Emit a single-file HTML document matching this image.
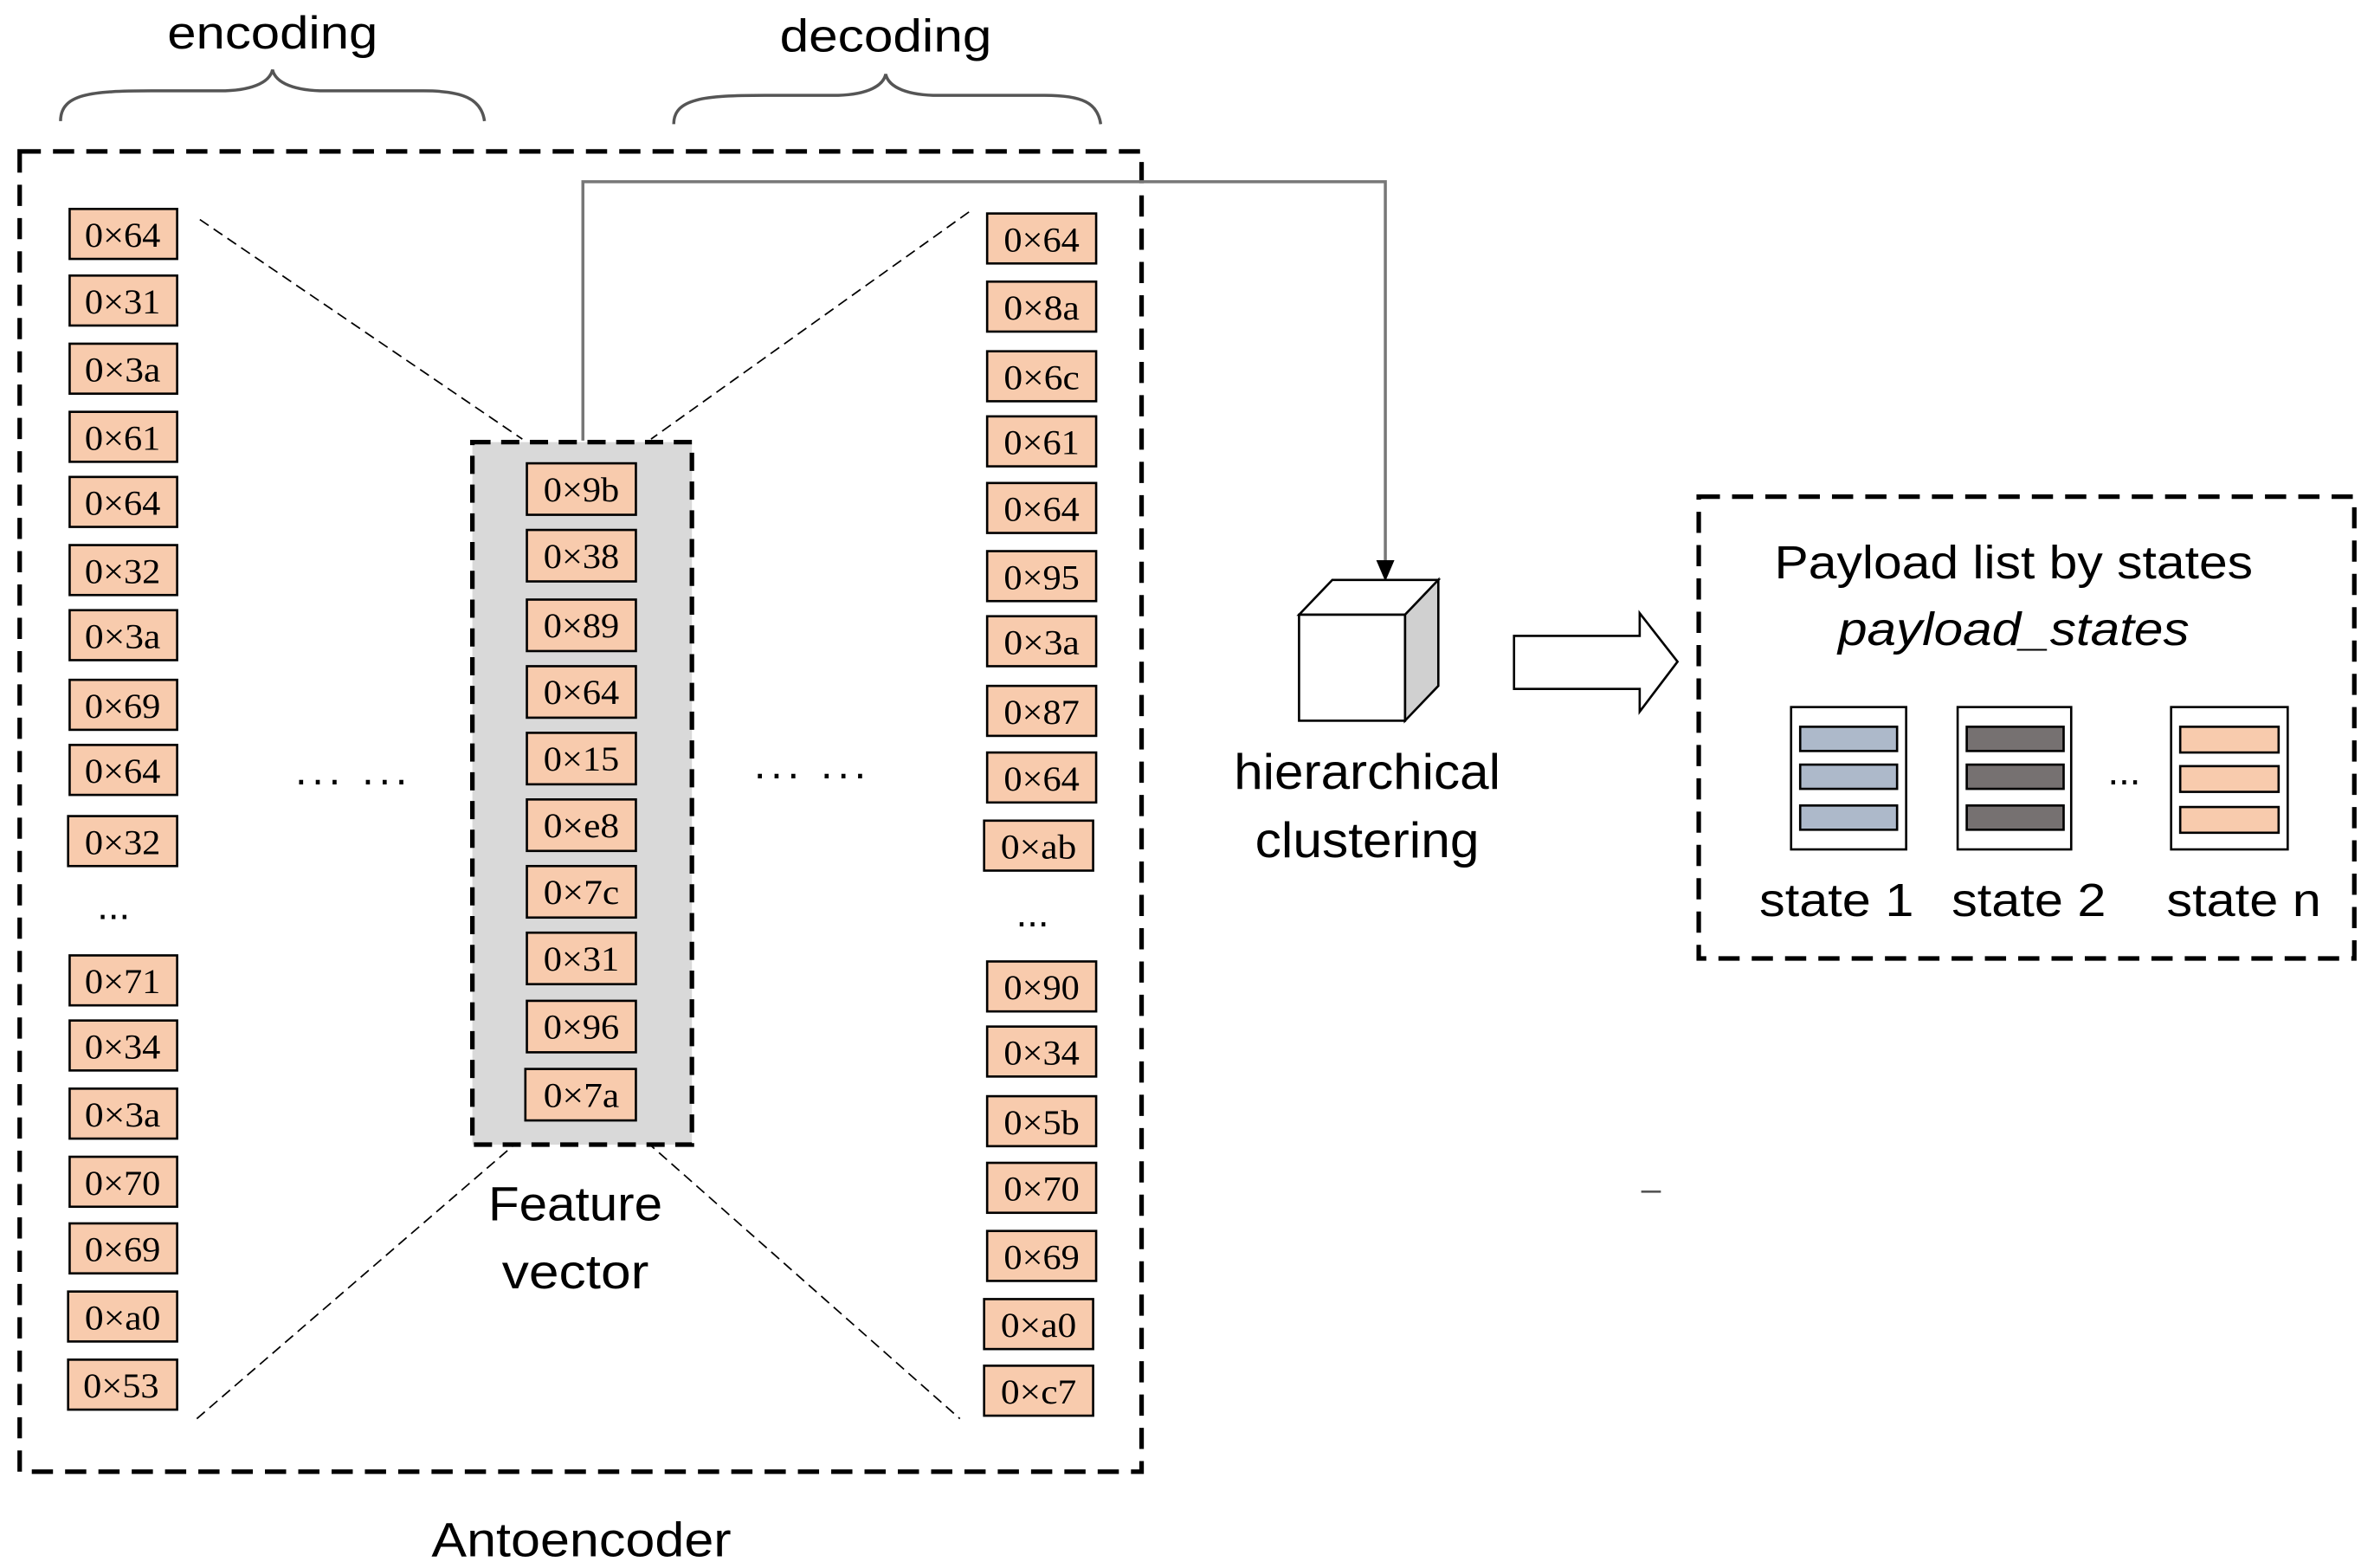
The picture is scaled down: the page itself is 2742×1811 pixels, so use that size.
<!DOCTYPE html>
<html><head><meta charset="utf-8"><style>html,body{margin:0;padding:0;background:#fff}svg{display:block}</style></head>
<body>
<svg width="2742" height="1811" viewBox="0 0 1568 1035.6" preserveAspectRatio="none" xmlns="http://www.w3.org/2000/svg">
<defs>
<style>
.b{fill:#f8cbad;stroke:#000;stroke-width:1.5}
.t{font-family:"Liberation Serif",serif;font-size:23px;text-anchor:middle}
.s{font-family:"Liberation Sans",sans-serif;text-anchor:middle;fill:#000}
.dl{stroke:#000;stroke-width:1;stroke-dasharray:7,4;fill:none}
</style>
</defs>
<text class="s" x="180" y="32" font-size="30" textLength="139" lengthAdjust="spacingAndGlyphs">encoding</text>
<text class="s" x="585" y="34" font-size="30" textLength="140" lengthAdjust="spacingAndGlyphs">decoding</text>
<path d="M40,80 C40,62 60,60 100,60 L145,60 C165,60 178,55 180,46 C182,55 195,60 215,60 L280,60 C305,60 318,65 320,80" fill="none" stroke="#555" stroke-width="2"/>
<path d="M445,82 C445,65 465,63 505,63 L550,63 C570,63 583,58 585,49 C587,58 600,63 620,63 L690,63 C715,63 725,68 727,82" fill="none" stroke="#555" stroke-width="2"/>
<rect x="13" y="100" width="741" height="872" fill="none" stroke="#000" stroke-width="3" stroke-dasharray="14,8"/>
<line class="dl" x1="132" y1="145" x2="345" y2="290"/>
<line class="dl" x1="640" y1="140" x2="430" y2="290"/>
<line class="dl" x1="130" y1="937" x2="342" y2="754"/>
<line class="dl" x1="427" y1="754" x2="634" y2="937"/>
<rect x="312" y="292" width="145" height="464" fill="#d9d9d9" stroke="#000" stroke-width="3" stroke-dasharray="12,7"/>
<polyline points="385,291 385,120 915,120 915,372" fill="none" stroke="#777" stroke-width="2"/>
<polygon points="909,370 921,370 915,384" fill="#000"/>
<g font-size="23">
<rect class="b" x="46" y="138" width="71" height="33"/><text class="t" x="81" y="163" textLength="50" lengthAdjust="spacingAndGlyphs">0×64</text>
<rect class="b" x="46" y="182" width="71" height="33"/><text class="t" x="81" y="207" textLength="50" lengthAdjust="spacingAndGlyphs">0×31</text>
<rect class="b" x="46" y="227" width="71" height="33"/><text class="t" x="81" y="252" textLength="50" lengthAdjust="spacingAndGlyphs">0×3a</text>
<rect class="b" x="46" y="272" width="71" height="33"/><text class="t" x="81" y="297" textLength="50" lengthAdjust="spacingAndGlyphs">0×61</text>
<rect class="b" x="46" y="315" width="71" height="33"/><text class="t" x="81" y="340" textLength="50" lengthAdjust="spacingAndGlyphs">0×64</text>
<rect class="b" x="46" y="360" width="71" height="33"/><text class="t" x="81" y="385" textLength="50" lengthAdjust="spacingAndGlyphs">0×32</text>
<rect class="b" x="46" y="403" width="71" height="33"/><text class="t" x="81" y="428" textLength="50" lengthAdjust="spacingAndGlyphs">0×3a</text>
<rect class="b" x="46" y="449" width="71" height="33"/><text class="t" x="81" y="474" textLength="50" lengthAdjust="spacingAndGlyphs">0×69</text>
<rect class="b" x="46" y="492" width="71" height="33"/><text class="t" x="81" y="517" textLength="50" lengthAdjust="spacingAndGlyphs">0×64</text>
<rect class="b" x="45" y="539" width="72" height="33"/><text class="t" x="81" y="564" textLength="50" lengthAdjust="spacingAndGlyphs">0×32</text>
<text class="s" x="75" y="607" font-size="26">...</text>
<rect class="b" x="46" y="631" width="71" height="33"/><text class="t" x="81" y="656" textLength="50" lengthAdjust="spacingAndGlyphs">0×71</text>
<rect class="b" x="46" y="674" width="71" height="33"/><text class="t" x="81" y="699" textLength="50" lengthAdjust="spacingAndGlyphs">0×34</text>
<rect class="b" x="46" y="719" width="71" height="33"/><text class="t" x="81" y="744" textLength="50" lengthAdjust="spacingAndGlyphs">0×3a</text>
<rect class="b" x="46" y="764" width="71" height="33"/><text class="t" x="81" y="789" textLength="50" lengthAdjust="spacingAndGlyphs">0×70</text>
<rect class="b" x="46" y="808" width="71" height="33"/><text class="t" x="81" y="833" textLength="50" lengthAdjust="spacingAndGlyphs">0×69</text>
<rect class="b" x="45" y="853" width="72" height="33"/><text class="t" x="81" y="878" textLength="50" lengthAdjust="spacingAndGlyphs">0×a0</text>
<rect class="b" x="45" y="898" width="72" height="33"/><text class="t" x="80" y="923" textLength="50" lengthAdjust="spacingAndGlyphs">0×53</text>
</g>
<g>
<rect class="b" x="348" y="306" width="72" height="34"/><text class="t" x="384" y="331" textLength="50" lengthAdjust="spacingAndGlyphs">0×9b</text>
<rect class="b" x="348" y="350" width="72" height="34"/><text class="t" x="384" y="375" textLength="50" lengthAdjust="spacingAndGlyphs">0×38</text>
<rect class="b" x="348" y="396" width="72" height="34"/><text class="t" x="384" y="421" textLength="50" lengthAdjust="spacingAndGlyphs">0×89</text>
<rect class="b" x="348" y="440" width="72" height="34"/><text class="t" x="384" y="465" textLength="50" lengthAdjust="spacingAndGlyphs">0×64</text>
<rect class="b" x="348" y="484" width="72" height="34"/><text class="t" x="384" y="509" textLength="50" lengthAdjust="spacingAndGlyphs">0×15</text>
<rect class="b" x="348" y="528" width="72" height="34"/><text class="t" x="384" y="553" textLength="50" lengthAdjust="spacingAndGlyphs">0×e8</text>
<rect class="b" x="348" y="572" width="72" height="34"/><text class="t" x="384" y="597" textLength="50" lengthAdjust="spacingAndGlyphs">0×7c</text>
<rect class="b" x="348" y="616" width="72" height="34"/><text class="t" x="384" y="641" textLength="50" lengthAdjust="spacingAndGlyphs">0×31</text>
<rect class="b" x="348" y="661" width="72" height="34"/><text class="t" x="384" y="686" textLength="50" lengthAdjust="spacingAndGlyphs">0×96</text>
<rect class="b" x="347" y="706" width="73" height="34"/><text class="t" x="384" y="731" textLength="50" lengthAdjust="spacingAndGlyphs">0×7a</text>
</g>
<g>
<rect class="b" x="652" y="141" width="72" height="33"/><text class="t" x="688" y="166" textLength="50" lengthAdjust="spacingAndGlyphs">0×64</text>
<rect class="b" x="652" y="186" width="72" height="33"/><text class="t" x="688" y="211" textLength="50" lengthAdjust="spacingAndGlyphs">0×8a</text>
<rect class="b" x="652" y="232" width="72" height="33"/><text class="t" x="688" y="257" textLength="50" lengthAdjust="spacingAndGlyphs">0×6c</text>
<rect class="b" x="652" y="275" width="72" height="33"/><text class="t" x="688" y="300" textLength="50" lengthAdjust="spacingAndGlyphs">0×61</text>
<rect class="b" x="652" y="319" width="72" height="33"/><text class="t" x="688" y="344" textLength="50" lengthAdjust="spacingAndGlyphs">0×64</text>
<rect class="b" x="652" y="364" width="72" height="33"/><text class="t" x="688" y="389" textLength="50" lengthAdjust="spacingAndGlyphs">0×95</text>
<rect class="b" x="652" y="407" width="72" height="33"/><text class="t" x="688" y="432" textLength="50" lengthAdjust="spacingAndGlyphs">0×3a</text>
<rect class="b" x="652" y="453" width="72" height="33"/><text class="t" x="688" y="478" textLength="50" lengthAdjust="spacingAndGlyphs">0×87</text>
<rect class="b" x="652" y="497" width="72" height="33"/><text class="t" x="688" y="522" textLength="50" lengthAdjust="spacingAndGlyphs">0×64</text>
<rect class="b" x="650" y="542" width="72" height="33"/><text class="t" x="686" y="567" textLength="50" lengthAdjust="spacingAndGlyphs">0×ab</text>
<text class="s" x="682" y="612" font-size="26">...</text>
<rect class="b" x="652" y="635" width="72" height="33"/><text class="t" x="688" y="660" textLength="50" lengthAdjust="spacingAndGlyphs">0×90</text>
<rect class="b" x="652" y="678" width="72" height="33"/><text class="t" x="688" y="703" textLength="50" lengthAdjust="spacingAndGlyphs">0×34</text>
<rect class="b" x="652" y="724" width="72" height="33"/><text class="t" x="688" y="749" textLength="50" lengthAdjust="spacingAndGlyphs">0×5b</text>
<rect class="b" x="652" y="768" width="72" height="33"/><text class="t" x="688" y="793" textLength="50" lengthAdjust="spacingAndGlyphs">0×70</text>
<rect class="b" x="652" y="813" width="72" height="33"/><text class="t" x="688" y="838" textLength="50" lengthAdjust="spacingAndGlyphs">0×69</text>
<rect class="b" x="650" y="858" width="72" height="33"/><text class="t" x="686" y="883" textLength="50" lengthAdjust="spacingAndGlyphs">0×a0</text>
<rect class="b" x="650" y="902" width="72" height="33"/><text class="t" x="686" y="927" textLength="50" lengthAdjust="spacingAndGlyphs">0×c7</text>
</g>
<text class="s" x="232" y="518" font-size="28" textLength="74" lengthAdjust="spacing">... ...</text>
<text class="s" x="535" y="514" font-size="28" textLength="74" lengthAdjust="spacing">... ...</text>
<text class="s" x="380" y="806" font-size="32" textLength="115" lengthAdjust="spacingAndGlyphs">Feature</text>
<text class="s" x="380" y="851" font-size="32" textLength="97" lengthAdjust="spacingAndGlyphs">vector</text>
<text class="s" x="384" y="1028" font-size="32" textLength="198" lengthAdjust="spacingAndGlyphs">Antoencoder</text>
<polygon points="858,406 880,383 950,383 928,406" fill="#fff" stroke="#000" stroke-width="1.5"/>
<polygon points="928,406 950,383 950,453 928,476" fill="#d0d0d0" stroke="#000" stroke-width="1.5"/>
<rect x="858" y="406" width="70" height="70" fill="#fff" stroke="#000" stroke-width="1.5"/>
<text class="s" x="903" y="521" font-size="33" textLength="176" lengthAdjust="spacingAndGlyphs">hierarchical</text>
<text class="s" x="903" y="566" font-size="33" textLength="148" lengthAdjust="spacingAndGlyphs">clustering</text>
<polygon points="1000,420 1083,420 1083,405 1108,437 1083,470 1083,455 1000,455" fill="#fff" stroke="#000" stroke-width="1.5"/>
<rect x="1122" y="328" width="433" height="305" fill="none" stroke="#000" stroke-width="3" stroke-dasharray="14,8"/>
<text class="s" x="1330" y="382" font-size="31" textLength="316" lengthAdjust="spacingAndGlyphs">Payload list by states</text>
<text class="s" x="1330" y="426" font-size="31" font-style="italic" textLength="232" lengthAdjust="spacingAndGlyphs">payload_states</text>
<rect x="1183" y="467" width="76" height="94" fill="#fff" stroke="#000" stroke-width="1.5"/>
<rect x="1189" y="480" width="64" height="16" fill="#adb9ca" stroke="#000" stroke-width="1.5"/>
<rect x="1189" y="505" width="64" height="16" fill="#adb9ca" stroke="#000" stroke-width="1.5"/>
<rect x="1189" y="532" width="64" height="16" fill="#adb9ca" stroke="#000" stroke-width="1.5"/>
<rect x="1293" y="467" width="75" height="94" fill="#fff" stroke="#000" stroke-width="1.5"/>
<rect x="1299" y="480" width="64" height="16" fill="#767171" stroke="#000" stroke-width="1.5"/>
<rect x="1299" y="505" width="64" height="16" fill="#767171" stroke="#000" stroke-width="1.5"/>
<rect x="1299" y="532" width="64" height="16" fill="#767171" stroke="#000" stroke-width="1.5"/>
<rect x="1434" y="467" width="77" height="94" fill="#fff" stroke="#000" stroke-width="1.5"/>
<rect x="1440" y="480" width="65" height="17" fill="#f8cbad" stroke="#000" stroke-width="1.5"/>
<rect x="1440" y="506" width="65" height="17" fill="#f8cbad" stroke="#000" stroke-width="1.5"/>
<rect x="1440" y="533" width="65" height="17" fill="#f8cbad" stroke="#000" stroke-width="1.5"/>
<text class="s" x="1403" y="518" font-size="26">...</text>
<text class="s" x="1213" y="605" font-size="31" textLength="102" lengthAdjust="spacingAndGlyphs">state 1</text>
<text class="s" x="1340" y="605" font-size="31" textLength="102" lengthAdjust="spacingAndGlyphs">state 2</text>
<text class="s" x="1482" y="605" font-size="31" textLength="102" lengthAdjust="spacingAndGlyphs">state n</text>
<line x1="1084" y1="787" x2="1097" y2="787" stroke="#555" stroke-width="1.5"/>
</svg>
</body></html>
